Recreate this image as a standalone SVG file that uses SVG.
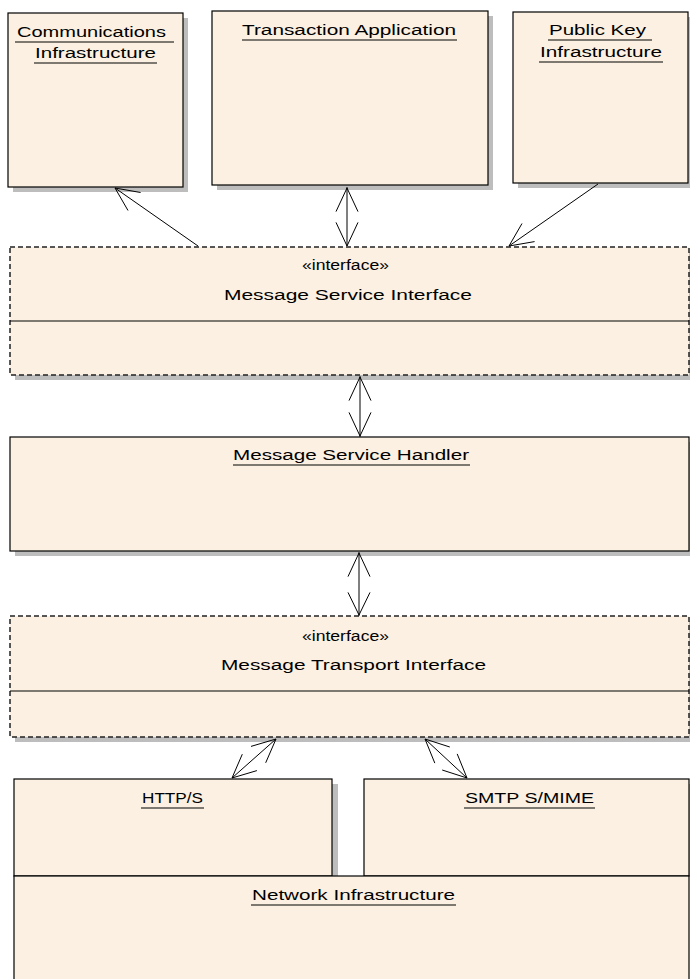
<svg xmlns="http://www.w3.org/2000/svg" width="690" height="979" viewBox="0 0 690 979">
<style>
.box{fill:#FBF0E1;stroke:#000;stroke-width:1.2}
.dbox{fill:#FBF0E1;stroke:#222;stroke-width:1.5;stroke-dasharray:5 3}
.sh{fill:#BDBDBD}
.t{font-family:"Liberation Sans",Arial,sans-serif;font-size:14px;fill:#000}
.ul{stroke:#000;stroke-width:1.2}
.sep{stroke:#000;stroke-width:1.2}
.c{fill:none;stroke:#000;stroke-width:1}
</style>
<rect width="690" height="979" fill="#fff"/>

<g id="comm">
<rect class="sh" x="13" y="18" width="175" height="174"/>
<rect class="box" x="8" y="13" width="175" height="174"/>
<text class="t" x="17" y="37" textLength="149" lengthAdjust="spacingAndGlyphs">Communications</text>
<line class="ul" x1="15" y1="42" x2="174" y2="42"/>
<text class="t" x="35" y="58" textLength="121" lengthAdjust="spacingAndGlyphs">Infrastructure</text>
<line class="ul" x1="34" y1="63" x2="157" y2="63"/>
</g>

<g id="txapp">
<rect class="sh" x="217" y="16" width="276" height="174"/>
<rect class="box" x="212" y="11" width="276" height="174"/>
<text class="t" x="242" y="35" textLength="214" lengthAdjust="spacingAndGlyphs">Transaction Application</text>
<line class="ul" x1="242" y1="40" x2="457" y2="40"/>
</g>

<g id="pki">
<rect class="sh" x="518" y="17" width="175" height="171"/>
<rect class="box" x="513" y="12" width="175" height="171"/>
<text class="t" x="549" y="35" textLength="97" lengthAdjust="spacingAndGlyphs">Public Key</text>
<line class="ul" x1="548" y1="40" x2="652" y2="40"/>
<text class="t" x="540" y="57" textLength="122" lengthAdjust="spacingAndGlyphs">Infrastructure</text>
<line class="ul" x1="539" y1="62" x2="663" y2="62"/>
</g>

<g id="msi">
<rect class="sh" x="15" y="252" width="680" height="128"/>
<rect class="dbox" x="10" y="247" width="679" height="128"/>
<line class="sep" x1="10" y1="321" x2="689" y2="321"/>
<text class="t" x="302" y="270" textLength="87" lengthAdjust="spacingAndGlyphs">«interface»</text>
<text class="t" x="224" y="300" textLength="248" lengthAdjust="spacingAndGlyphs">Message Service Interface</text>
</g>

<g id="msh">
<rect class="sh" x="15" y="442" width="680" height="114"/>
<rect class="box" x="10" y="437" width="679" height="114"/>
<text class="t" x="233" y="460" textLength="236" lengthAdjust="spacingAndGlyphs">Message Service Handler</text>
<line class="ul" x1="233" y1="465" x2="470" y2="465"/>
</g>

<g id="mti">
<rect class="sh" x="15" y="621" width="680" height="121"/>
<rect class="dbox" x="10" y="616" width="679" height="121"/>
<line class="sep" x1="10" y1="691" x2="689" y2="691"/>
<text class="t" x="302" y="641" textLength="87" lengthAdjust="spacingAndGlyphs">«interface»</text>
<text class="t" x="221" y="670" textLength="265" lengthAdjust="spacingAndGlyphs">Message Transport Interface</text>
</g>

<g id="http">
<rect class="sh" x="19" y="784" width="319" height="92"/>
<rect class="box" x="14" y="779" width="318" height="97"/>
<text class="t" x="142" y="803" textLength="61" lengthAdjust="spacingAndGlyphs">HTTP/S</text>
<line class="ul" x1="141" y1="808" x2="204" y2="808"/>
</g>

<g id="smtp">
<rect class="sh" x="369" y="784" width="326" height="92"/>
<rect class="box" x="364" y="779" width="325" height="97"/>
<text class="t" x="465" y="803" textLength="129" lengthAdjust="spacingAndGlyphs">SMTP S/MIME</text>
<line class="ul" x1="464" y1="808" x2="595" y2="808"/>
</g>

<g id="network">
<rect class="box" x="14" y="876" width="675" height="110"/>
<text class="t" x="252" y="900" textLength="203" lengthAdjust="spacingAndGlyphs">Network Infrastructure</text>
<line class="ul" x1="251" y1="905" x2="456" y2="905"/>
</g>

<g id="connectors">
<line class="c" x1="198" y1="246" x2="115" y2="188"/>
<polyline class="c" points="128,210.5 115,188 140.6,192.5"/>

<line class="c" x1="347" y1="187" x2="347" y2="246"/>
<polyline class="c" points="336,211.6 347,188 358,211.6"/>
<polyline class="c" points="336,222.4 347,246 358,222.4"/>

<line class="c" x1="598" y1="184" x2="509" y2="246"/>
<polyline class="c" points="534.6,241.6 509,246 522,223.5"/>

<line class="c" x1="360" y1="376" x2="360" y2="437"/>
<polyline class="c" points="349,400.6 360,377 371,400.6"/>
<polyline class="c" points="349,412.4 360,436 371,412.4"/>

<line class="c" x1="359" y1="552" x2="359" y2="616"/>
<polyline class="c" points="348,576.6 359,553 370,576.6"/>
<polyline class="c" points="348,592.4 359,615 370,592.4"/>

<line class="c" x1="276" y1="739" x2="232" y2="778"/>
<polyline class="c" points="251,746.4 276,739 265.7,762.8"/>
<polyline class="c" points="256.9,770.6 232,778 242.3,754.2"/>

<line class="c" x1="425" y1="739" x2="467" y2="778"/>
<polyline class="c" points="434.8,763.1 425,739 449.8,747"/>
<polyline class="c" points="457.2,753.9 467,778 442.2,770"/>
</g>
</svg>
